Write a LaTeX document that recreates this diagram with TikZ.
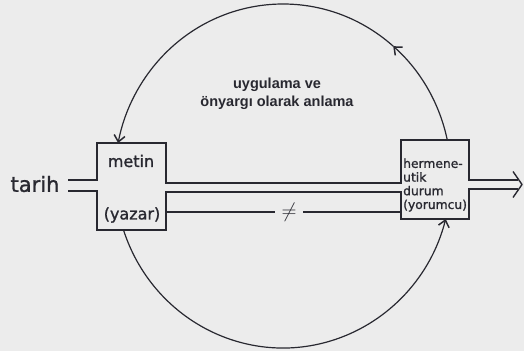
\documentclass[tikz,border=0pt]{standalone}
\usepackage{fontspec}
\setmainfont{Liberation Sans}
\newfontfamily\hand[FakeBold=1.2]{DejaVu Sans}
\usetikzlibrary{arrows.meta,calc}
\definecolor{paper}{RGB}{236,236,236}
\definecolor{ink}{RGB}{40,40,48}
\begin{document}
\begin{tikzpicture}[x=1pt,y=-1pt,
  box/.style={rectangle, draw=none, inner sep=0pt, outer sep=0pt},
  pipe/.style={draw=ink, line width=1.1pt, line join=miter},
  circ/.style={draw=ink, line width=1.2pt, -{Straight Barb[length=6.5pt,width=11pt,line width=1.5pt]}},
  hw/.style={font=\hand\fontsize{16}{18}\selectfont, text=ink, inner sep=0pt},
  hwbig/.style={font=\hand\fontsize{21}{24}\selectfont, text=ink, inner sep=0pt},
  hwsmall/.style={font=\hand\fontsize{12.3}{13.7}\selectfont, text=ink, inner sep=0pt},
  lbl/.style={font=\bfseries\fontsize{14.5}{18}\selectfont, text=ink, align=center, inner sep=0pt}]
\fill[paper] (0,0) rectangle (524,351);
\useasboundingbox (0,0) rectangle (524,351);

% boxes
\node[box, minimum width=69pt, minimum height=87pt] (M) at (131.5,186.5) {};
\node[box, minimum width=68pt, minimum height=79pt] (H) at (435,179.5) {};

% texts
\node[hw] (metin) at (131,161) {metin};
\node[hw] (yazar) at (132,215) {(yazar)};
\node[hwbig] (tarih) at (35,184) {tarih};
\node[hwsmall, anchor=west, align=left] (herm) at (403,185) {hermene-\\utik\\durum\\(yorumcu)};
\node[lbl] (lab) at (277,94) {uygulama ve\\önyargı olarak anlama};
\node[box, minimum width=28pt, font=\fontsize{20}{20}\selectfont, text=ink] (ne) at (289,212) {$\neq$};

% levels and free ends
\coordinate (ua) at (0,183);
\coordinate (la) at (0,192);
\coordinate (ta) at (0,212);
\coordinate (in1) at (68,180);
\coordinate (in2) at (68,191);
\coordinate (out1) at (518,180);
\coordinate (out2) at (518,189);
\coordinate (tip) at (522,184.5);
\coordinate (C) at (283,176);

% upper pipe line with box tops
\draw[pipe] (in1) -- (in1 -| M.west) -- (M.north west) -- (M.north east)
  -- (M.east |- ua) -- (H.west |- ua) -- (H.north west) -- (H.north east)
  -- (out1 -| H.east) -- (out1);
% lower pipe line with box bottoms
\draw[pipe] (in2) -- (in2 -| M.west) -- (M.south west) -- (M.south east)
  -- (M.east |- la) -- (H.west |- la) -- (H.south west) -- (H.south east)
  -- (out2 -| H.east) -- (out2);
% third line through the unequal sign
\draw[pipe] (M.east |- ta) -- (ne.west);
\draw[pipe] (ne.east) -- (H.west |- ta);
% output arrow head
\draw[pipe, line width=1.4pt, line join=round] ($(tip)+(-9,-13)$) -- (tip) -- ($(tip)+(-9,13)$);

% circle
\draw[circ] (C) ++(-12.1:168 and 172) arc[start angle=-12.1, end angle=-49, x radius=168, y radius=172];
\draw[circ] (C) ++(-49:168 and 172) arc[start angle=-49, end angle=-168.94, x radius=168, y radius=172];
\draw[circ] (C) ++(161.7:168 and 172) arc[start angle=161.7, end angle=14.48, x radius=168, y radius=172];
\end{tikzpicture}
\end{document}
